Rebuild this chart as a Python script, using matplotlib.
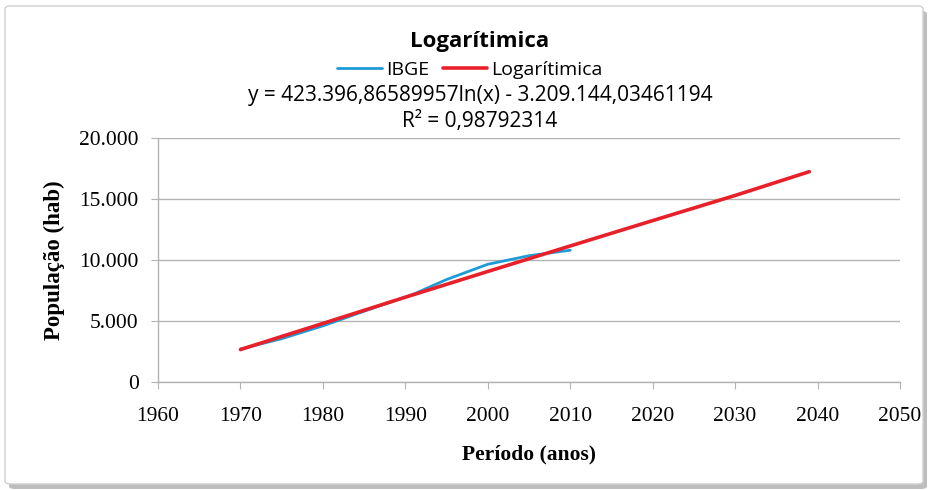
import matplotlib
matplotlib.use("Agg")
import matplotlib.pyplot as plt
from matplotlib.patches import FancyBboxPatch
from matplotlib.ticker import FuncFormatter

# IBGE census series (smoothed curve)
ibge_years = [1970, 1975, 1980, 1985, 1991, 1995, 2000, 2005, 2010]
ibge_pop = [2700, 3550, 4600, 5800, 7200, 8400, 9650, 10350, 10800]

# logarithmic trend line values
trend_years = [1970, 1980, 1990, 2000, 2010, 2020, 2030, 2039]
trend_pop = [2660, 4800, 6950, 9060, 11150, 13230, 15290, 17240]

x_ticks = list(range(1960, 2051, 10))
y_ticks = [0, 5000, 10000, 15000, 20000]

W, H = 933, 490
fig = plt.figure(figsize=(W / 100, H / 100), dpi=100)

# chart frame with shadow
shadow = FancyBboxPatch((9 / W, 1 / H), 918 / W, 478 / H,
                        boxstyle="round,pad=0,rounding_size=0.006",
                        transform=fig.transFigure, facecolor="#bdbdbd",
                        edgecolor="none", zorder=0)
frame = FancyBboxPatch((5 / W, 6 / H), 918 / W, 478 / H,
                       boxstyle="round,pad=0,rounding_size=0.006",
                       transform=fig.transFigure, facecolor="white",
                       edgecolor="#d0d0d0", linewidth=1, zorder=1)
fig.patches.extend([shadow, frame])

ax = fig.add_axes([158 / W, 108 / H, 742 / W, 244 / H])
ax.set_zorder(3)
ax.set_facecolor("none")

blue, = ax.plot(ibge_years, ibge_pop, color="#1f9bd7", lw=2.0,
                solid_capstyle="round", label="IBGE", zorder=3)
red, = ax.plot(trend_years, trend_pop, color="#e8202a", lw=2.6,
               solid_capstyle="round", label="Logarítimica", zorder=4)

ax.set_xlim(1960, 2050)
ax.set_ylim(0, 20000)
ax.set_xticks(x_ticks)
ax.set_yticks(y_ticks)
ax.yaxis.set_major_formatter(FuncFormatter(lambda v, p: f"{int(v):,}".replace(",", ".")))
ax.grid(axis="y", color="#b3b3b3", lw=1)
ax.set_axisbelow(True)
for s in ["top", "right"]:
    ax.spines[s].set_visible(False)
for s in ["left", "bottom"]:
    ax.spines[s].set_color("#b3b3b3")
    ax.spines[s].set_linewidth(1)

serif = "Liberation Serif"
ax.tick_params(axis="x", direction="out", length=5, color="#b3b3b3", pad=13,
               labelsize=15.5, labelfontfamily=serif)
ax.tick_params(axis="y", direction="out", length=5, color="#b3b3b3", pad=9,
               labelsize=15.5, labelfontfamily=serif)

ax.set_xlabel("Período (anos)", family=serif, fontweight="bold", fontsize=15.5,
              labelpad=13)
ax.set_ylabel("População (hab)", family=serif, fontweight="bold", fontsize=16.5,
              labelpad=10)

sans = "Open Sans"
cx = 480 / W
fig.text(cx, 1 - 42 / H, "Logarítimica", ha="center", va="center",
         family=sans, fontweight="bold", fontsize=16)
fig.legend(handles=[blue, red], loc="center", bbox_to_anchor=(470 / W, 1 - 70 / H),
           ncol=2, frameon=False, handlelength=2.3, handletextpad=0.2,
           columnspacing=0.7, prop={"family": sans, "size": 14})
fig.text(cx, 1 - 96 / H, "y = 423.396,86589957ln(x) - 3.209.144,03461194",
         ha="center", va="center", family=sans, fontsize=15)
fig.text(cx, 1 - 121 / H, "R² = 0,98792314", ha="center", va="center",
         family=sans, fontsize=15)

fig.savefig("out.png", dpi=100)
